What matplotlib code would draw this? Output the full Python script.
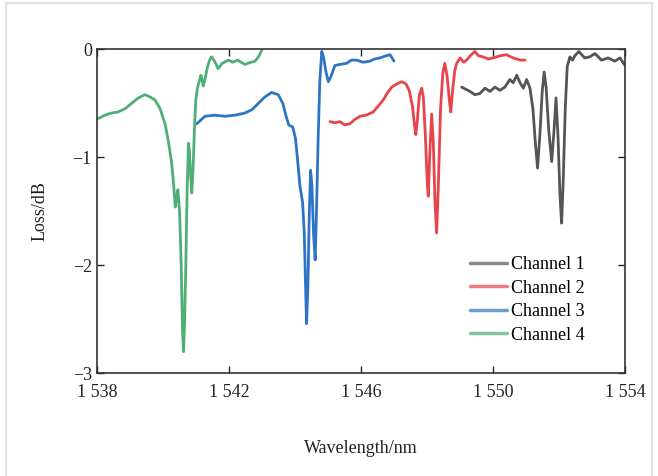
import matplotlib
matplotlib.use("Agg")
import matplotlib.pyplot as plt
from matplotlib.patches import Rectangle

# ---------------- data ----------------
ch4_wl = [1538.03, 1538.23, 1538.43, 1538.63, 1538.84, 1539.04, 1539.24, 1539.44, 1539.59, 1539.75,
          1539.90, 1540.05, 1540.15, 1540.25, 1540.31, 1540.36, 1540.40, 1540.44, 1540.49, 1540.54,
          1540.58, 1540.61, 1540.64, 1540.68, 1540.72, 1540.76, 1540.79, 1540.83, 1540.86, 1540.90,
          1540.94, 1540.98, 1541.03, 1541.10, 1541.14, 1541.21, 1541.26, 1541.33, 1541.40, 1541.46,
          1541.55, 1541.66, 1541.78, 1541.97, 1542.10, 1542.25, 1542.47, 1542.65, 1542.78, 1542.90,
          1542.98]
ch4_loss = [-0.64, -0.61, -0.59, -0.58, -0.55, -0.50, -0.45, -0.42, -0.44, -0.47,
            -0.55, -0.69, -0.85, -1.05, -1.25, -1.46, -1.38, -1.30, -1.50, -2.00,
            -2.60, -2.80, -2.55, -2.00, -1.30, -0.87, -0.95, -1.20, -1.33, -1.10,
            -0.75, -0.48, -0.36, -0.28, -0.24, -0.34, -0.28, -0.17, -0.10, -0.07,
            -0.11, -0.18, -0.13, -0.10, -0.12, -0.10, -0.14, -0.12, -0.11, -0.06,
            -0.01]

ch3_wl = [1541.01, 1541.26, 1541.56, 1541.87, 1542.17, 1542.47, 1542.68, 1542.88, 1543.08, 1543.28,
          1543.48, 1543.62, 1543.72, 1543.80, 1543.92, 1544.00, 1544.06, 1544.14, 1544.22, 1544.27,
          1544.31, 1544.34, 1544.38, 1544.42, 1544.46, 1544.50, 1544.55, 1544.60, 1544.64, 1544.69,
          1544.74, 1544.80, 1544.86, 1544.92, 1545.00, 1545.08, 1545.20, 1545.35, 1545.55, 1545.70,
          1545.86, 1546.05, 1546.26, 1546.40, 1546.56, 1546.75, 1546.87, 1546.99]
ch3_loss = [-0.69, -0.62, -0.61, -0.62, -0.61, -0.59, -0.56, -0.50, -0.44, -0.40,
            -0.42, -0.50, -0.62, -0.70, -0.72, -0.82, -1.00, -1.27, -1.42, -1.70,
            -2.20, -2.54, -2.20, -1.55, -1.12, -1.25, -1.70, -1.95, -1.50, -0.84,
            -0.30, -0.02, -0.08, -0.20, -0.30, -0.25, -0.15, -0.14, -0.13, -0.10,
            -0.10, -0.12, -0.11, -0.09, -0.08, -0.06, -0.05, -0.11]

ch2_wl = [1545.05, 1545.20, 1545.35, 1545.50, 1545.65, 1545.80, 1545.96, 1546.15, 1546.36, 1546.50,
          1546.66, 1546.80, 1546.92, 1547.08, 1547.22, 1547.35, 1547.45, 1547.55, 1547.61, 1547.65,
          1547.70, 1547.76, 1547.83, 1547.88, 1547.94, 1548.00, 1548.03, 1548.07, 1548.13, 1548.18,
          1548.23, 1548.28, 1548.33, 1548.40, 1548.47, 1548.53, 1548.60, 1548.67, 1548.71, 1548.76,
          1548.83, 1548.89, 1548.99, 1549.10, 1549.19, 1549.30, 1549.44, 1549.55, 1549.69, 1549.85,
          1549.99, 1550.20, 1550.40, 1550.60, 1550.81, 1550.96]
ch2_loss = [-0.67, -0.68, -0.67, -0.70, -0.69, -0.65, -0.62, -0.61, -0.58, -0.53,
            -0.47, -0.40, -0.35, -0.32, -0.30, -0.32, -0.38, -0.53, -0.70, -0.79,
            -0.65, -0.42, -0.36, -0.45, -0.80, -1.25, -1.36, -1.00, -0.60, -0.85,
            -1.40, -1.70, -1.30, -0.55, -0.22, -0.13, -0.25, -0.48, -0.58, -0.40,
            -0.20, -0.13, -0.08, -0.12, -0.10, -0.06, -0.02, -0.06, -0.07, -0.09,
            -0.08, -0.06, -0.05, -0.08, -0.10, -0.10]

ch1_wl = [1549.04, 1549.29, 1549.44, 1549.59, 1549.75, 1549.90, 1550.05, 1550.20, 1550.35, 1550.50,
          1550.60, 1550.71, 1550.81, 1550.91, 1551.01, 1551.11, 1551.20, 1551.27, 1551.34, 1551.41,
          1551.48, 1551.54, 1551.60, 1551.68, 1551.77, 1551.84, 1551.90, 1551.96, 1552.02, 1552.07,
          1552.12, 1552.18, 1552.24, 1552.32, 1552.40, 1552.47, 1552.59, 1552.77, 1552.92, 1553.08,
          1553.28, 1553.48, 1553.68, 1553.84, 1553.99]
ch1_loss = [-0.35, -0.39, -0.42, -0.41, -0.36, -0.39, -0.35, -0.38, -0.35, -0.28,
            -0.31, -0.24, -0.31, -0.36, -0.28, -0.36, -0.55, -0.85, -1.10, -0.80,
            -0.40, -0.21, -0.35, -0.75, -1.04, -0.75, -0.45, -0.80, -1.35, -1.61,
            -1.20, -0.55, -0.16, -0.07, -0.10, -0.06, -0.02, -0.08, -0.07, -0.04,
            -0.10, -0.08, -0.11, -0.08, -0.15]

labels = ["Channel 1", "Channel 2", "Channel 3", "Channel 4"]
xticks = [1538, 1542, 1546, 1550, 1554]
xtick_labels = ["1 538", "1 542", "1 546", "1 550", "1 554"]
yticks = [0, -1, -2, -3]
ytick_labels = ["0", "\u22121", "\u22122", "\u22123"]

colors = ["#555555", "#e8444c", "#2f74c4", "#4fae74"]

# ---------------- figure ----------------
plt.rcParams['font.family'] = ['Liberation Serif', 'DejaVu Serif']
fig = plt.figure(figsize=(6.58, 4.76), dpi=100)
fig.patches.append(Rectangle((6 / 658, -0.02), (652 - 6) / 658, 1.02 - 3.5 / 476,
                             transform=fig.transFigure, fill=False,
                             edgecolor="#e2e2e2", linewidth=1.5))
ax = fig.add_axes([97.4 / 658, 1 - 373.3 / 476, (625.3 - 97.4) / 658, (373.3 - 49.3) / 476])

series = [(ch1_wl, ch1_loss), (ch2_wl, ch2_loss), (ch3_wl, ch3_loss), (ch4_wl, ch4_loss)]
handles = []
for (wl, loss), c, lab in zip(series, colors, labels):
    h, = ax.plot(wl, loss, color=c, linewidth=2.0, label=lab,
                 solid_joinstyle="round", solid_capstyle="round")
    handles.append(h)

ax.set_xlim(1538, 1554)
ax.set_ylim(-3, 0)
ax.set_xticks(xticks)
ax.set_xticklabels(xtick_labels)
ax.set_yticks(yticks)
ax.set_yticklabels(ytick_labels)
ax.tick_params(direction="in", length=5, width=1, top=True, right=True,
               labelsize=13, colors="#222222")
ax.tick_params(axis="x", pad=8)
ax.tick_params(axis="y", pad=4)
for s in ax.spines.values():
    s.set_linewidth(1.2)
    s.set_color("#333333")

ax.set_xlabel("Wavelength/nm", fontsize=13, labelpad=28, color="#222222")
ax.set_ylabel("Loss/dB", fontsize=13, labelpad=17, color="#222222")

leg = ax.legend(handles=handles, loc="upper left", bbox_to_anchor=(0.705, 0.362),
                frameon=False, fontsize=13, handlelength=2.1, handletextpad=0.2,
                labelspacing=0.36, borderpad=0, borderaxespad=0)
for lh in leg.get_lines():
    lh.set_alpha(0.7)
    lh.set_linewidth(2.5)

fig.savefig("out.png", dpi=100)
